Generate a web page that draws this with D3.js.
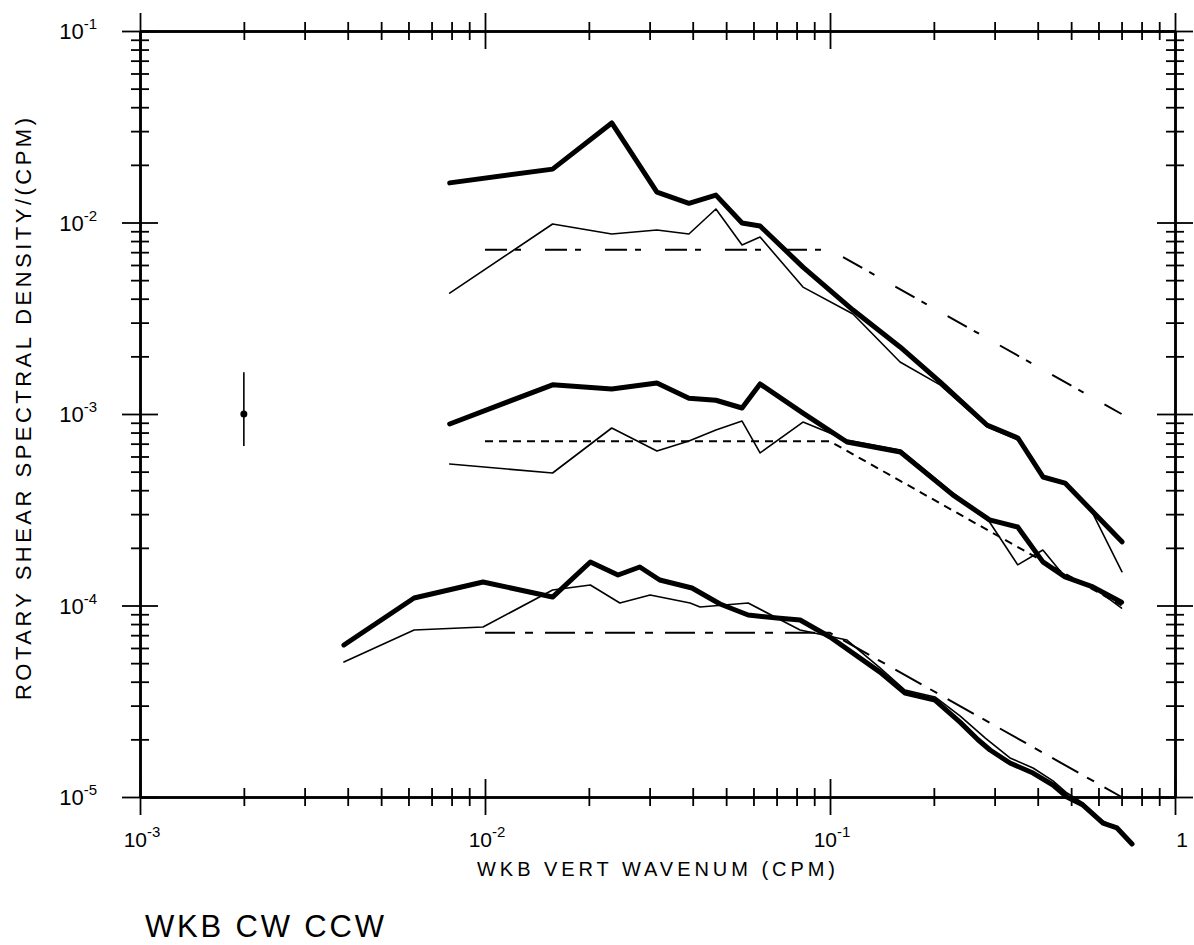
<!DOCTYPE html>
<html>
<head>
<meta charset="utf-8">
<script src="https://cdn.jsdelivr.net/npm/d3@7"></script>
<style>
body { margin: 0; background: #fff; }
svg text { font-family: "Liberation Sans", Arial, Helvetica, sans-serif; fill: #000; }
</style>
</head>
<body>
<div id="chart"></div>
<script>
// upper pair (k in cpm, spectral density)
var kTop = [0.0079, 0.0157, 0.0233, 0.0315, 0.039, 0.0467, 0.0556, 0.0627, 0.0835, 0.1166, 0.1596, 0.2084, 0.2851, 0.3506, 0.4144, 0.48, 0.7021];
var topThick = [1.61e-2, 1.90e-2, 3.31e-2, 1.44e-2, 1.26e-2, 1.39e-2, 9.94e-3, 9.59e-3, 5.85e-3, 3.49e-3, 2.24e-3, 1.47e-3, 8.76e-4, 7.49e-4, 4.69e-4, 4.36e-4, 2.15e-4];
var kTopThin = [0.0079, 0.0157, 0.0233, 0.0315, 0.039, 0.0467, 0.0556, 0.0627, 0.0835, 0.1166, 0.1596, 0.2084, 0.2851, 0.3506, 0.4144, 0.48, 0.5746, 0.7021];
var topThin = [4.28e-3, 9.82e-3, 8.71e-3, 9.14e-3, 8.71e-3, 1.176e-2, 7.63e-3, 8.40e-3, 4.60e-3, 3.33e-3, 1.87e-3, 1.42e-3, 8.56e-4, 7.31e-4, 4.69e-4, 4.36e-4, 3.08e-4, 1.50e-4];

// middle pair
var kMid = [0.0079, 0.0157, 0.0233, 0.0315, 0.039, 0.0467, 0.0556, 0.0627, 0.0835, 0.112, 0.16, 0.227, 0.29, 0.35, 0.414, 0.48, 0.578, 0.70];
var midThick = [8.87e-4, 1.42e-3, 1.35e-3, 1.45e-3, 1.21e-3, 1.18e-3, 1.075e-3, 1.435e-3, 1.01e-3, 7.14e-4, 6.33e-4, 3.78e-4, 2.80e-4, 2.57e-4, 1.69e-4, 1.41e-4, 1.25e-4, 1.04e-4];
var midThin = [5.48e-4, 4.92e-4, 8.45e-4, 6.41e-4, 7.23e-4, 8.25e-4, 9.19e-4, 6.26e-4, 9.08e-4, 7.31e-4, 6.49e-4, 3.87e-4, 2.73e-4, 1.63e-4, 1.95e-4, 1.41e-4, 1.25e-4, 9.7e-5];

// lower pair
var kLow = [0.0039, 0.00623, 0.00987, 0.0157, 0.0202, 0.0243, 0.0281, 0.0321, 0.0398, 0.048, 0.0579, 0.0702, 0.0819, 0.1, 0.1396, 0.165, 0.2015, 0.2381, 0.2685, 0.291, 0.3324, 0.3877, 0.443, 0.4864, 0.5411, 0.6185, 0.6791, 0.7507];
var lowThick = [6.22e-5, 1.094e-4, 1.327e-4, 1.107e-4, 1.688e-4, 1.443e-4, 1.589e-4, 1.359e-4, 1.234e-4, 1.018e-4, 8.92e-5, 8.60e-5, 8.40e-5, 6.85e-5, 4.49e-5, 3.49e-5, 3.21e-5, 2.46e-5, 1.99e-5, 1.76e-5, 1.505e-5, 1.334e-5, 1.155e-5, 1.0e-5, 9.08e-6, 7.31e-6, 6.89e-6, 5.68e-6];
var kLowThin = [0.0039, 0.00623, 0.00987, 0.0157, 0.0202, 0.0246, 0.0301, 0.0393, 0.042, 0.0579, 0.0819, 0.112, 0.1396, 0.165, 0.2015, 0.2381, 0.282, 0.3324, 0.3877, 0.443, 0.4864, 0.5411, 0.6185, 0.6791, 0.7507];
var lowThin = [5.07e-5, 7.45e-5, 7.72e-5, 1.205e-4, 1.279e-4, 1.03e-4, 1.134e-4, 1.03e-4, 9.82e-5, 1.03e-4, 7.45e-5, 6.6e-5, 4.72e-5, 3.62e-5, 3.33e-5, 2.65e-5, 2.03e-5, 1.6e-5, 1.417e-5, 1.213e-5, 1.049e-5, 9.3e-6, 7.49e-6, 6.81e-6, 5.68e-6];

// WKB model levels
var kRef = [0.01, 0.1, 0.7];
var refTop = [7.2e-3, 7.2e-3, 1.0e-3];
var refMid = [7.2e-4, 7.2e-4, 1.0e-4];
var refLow = [7.2e-5, 7.2e-5, 1.0e-5];

// error bar
var errK = 0.002, errS = 1e-3, errLo = 6.8e-4, errHi = 1.65e-3;

var xTickLabels = [{v: 1e-3, e: "-3"}, {v: 1e-2, e: "-2"}, {v: 1e-1, e: "-1"}, {v: 1, e: ""}];
var yTickLabels = [{v: 1e-1, e: "-1"}, {v: 1e-2, e: "-2"}, {v: 1e-3, e: "-3"}, {v: 1e-4, e: "-4"}, {v: 1e-5, e: "-5"}];

var width = 1194, height = 945;
var margin = {top: 31, right: 19, bottom: 148, left: 140};

var svg = d3.select("#chart").append("svg")
    .attr("width", width)
    .attr("height", height);

var x = d3.scaleLog().domain([1e-3, 1]).range([margin.left, width - margin.right]);
var y = d3.scaleLog().domain([1e-5, 1e-1]).range([height - margin.bottom, margin.top]);

function isMajor(v) { return Math.abs(Math.log10(v) - Math.round(Math.log10(v))) < 1e-6; }
var xMinor = x.ticks().filter(function(v) { return !isMajor(v); });
var xMajor = x.ticks().filter(isMajor);
var yMinor = y.ticks().filter(function(v) { return !isMajor(v); });
var yMajor = y.ticks().filter(isMajor);

// crossing ticks: draw the axis outward and inward at the same spot
function crossAxis(makeA, makeB, scale, transform, vals, size) {
  [makeA, makeB].forEach(function(make) {
    svg.append("g")
      .attr("transform", transform)
      .call(make(scale).tickValues(vals).tickSize(size).tickSizeOuter(0).tickFormat(""))
      .call(function(g) {
        g.selectAll("line").attr("stroke", "#000").attr("stroke-width", 1.8);
        g.select(".domain").attr("stroke", "#000").attr("stroke-width", 2);
      });
  });
}

var x0 = x.range()[0], x1 = x.range()[1], y0 = y.range()[0], y1 = y.range()[1];
crossAxis(d3.axisBottom, d3.axisTop, x, "translate(0," + y0 + ")", xMinor, 9);
crossAxis(d3.axisBottom, d3.axisTop, x, "translate(0," + y0 + ")", xMajor, 18);
crossAxis(d3.axisBottom, d3.axisTop, x, "translate(0," + y1 + ")", xMinor, 9);
crossAxis(d3.axisBottom, d3.axisTop, x, "translate(0," + y1 + ")", xMajor, 18);
crossAxis(d3.axisLeft, d3.axisRight, y, "translate(" + x0 + ",0)", yMinor, 9);
crossAxis(d3.axisLeft, d3.axisRight, y, "translate(" + x0 + ",0)", yMajor, 18);
crossAxis(d3.axisLeft, d3.axisRight, y, "translate(" + x1 + ",0)", yMinor, 9);
crossAxis(d3.axisLeft, d3.axisRight, y, "translate(" + x1 + ",0)", yMajor, 18);

// tick labels with superscript exponents
xTickLabels.forEach(function(d) {
  var t = svg.append("text")
      .attr("x", x(d.v) + (d.e ? 2 : 7))
      .attr("y", y0 + 50)
      .attr("text-anchor", "middle")
      .style("font-size", "21px");
  t.append("tspan").text(d.e ? "10" : "1");
  if (d.e) t.append("tspan").attr("dy", -10).style("font-size", "15px").text(d.e);
});

yTickLabels.forEach(function(d) {
  var t = svg.append("text")
      .attr("x", 97)
      .attr("y", y(d.v) + 8)
      .attr("text-anchor", "end")
      .style("font-size", "22px");
  t.append("tspan").text("10");
  t.append("tspan").attr("dy", -10).style("font-size", "15px").text(d.e);
});

// axis titles
svg.append("text")
    .attr("x", 477)
    .attr("y", 876)
    .attr("textLength", 358)
    .attr("lengthAdjust", "spacing")
    .style("font-size", "20px")
    .text("WKB VERT WAVENUM (CPM)");

svg.append("text")
    .attr("transform", "translate(31,700) rotate(-90)")
    .attr("textLength", 582)
    .attr("lengthAdjust", "spacing")
    .style("font-size", "22px")
    .text("ROTARY SHEAR SPECTRAL DENSITY/(CPM)");

svg.append("text")
    .attr("x", 145)
    .attr("y", 937)
    .attr("textLength", 239)
    .attr("lengthAdjust", "spacing")
    .style("font-size", "31px")
    .text("WKB CW CCW");

// curves
var line = d3.line()
    .x(function(d) { return x(d[0]); })
    .y(function(d) { return y(d[1]); });

function addCurve(ks, vals, w, dash) {
  svg.append("path")
      .datum(d3.zip(ks, vals))
      .attr("d", line)
      .attr("fill", "none")
      .attr("stroke", "#000")
      .attr("stroke-width", w)
      .attr("stroke-linejoin", "round")
      .attr("stroke-linecap", dash ? "butt" : "round")
      .attr("stroke-dasharray", dash || null);
}

addCurve(kRef, refTop, 2, "22,8,6,24");
addCurve(kRef, refMid, 2, "8,6");
addCurve(kRef, refLow, 2, "30,10,8,12");

addCurve(kTopThin, topThin, 1.6);
addCurve(kTop, topThick, 5);
addCurve(kMid, midThin, 1.6);
addCurve(kMid, midThick, 5);
addCurve(kLowThin, lowThin, 1.6);
addCurve(kLow, lowThick, 5);

// error bar
svg.append("line")
    .attr("x1", x(errK)).attr("x2", x(errK))
    .attr("y1", y(errHi)).attr("y2", y(errLo))
    .attr("stroke", "#000")
    .attr("stroke-width", 1.6);
svg.append("circle")
    .attr("cx", x(errK))
    .attr("cy", y(errS))
    .attr("r", 3.5)
    .attr("fill", "#000");
</script>
</body>
</html>
